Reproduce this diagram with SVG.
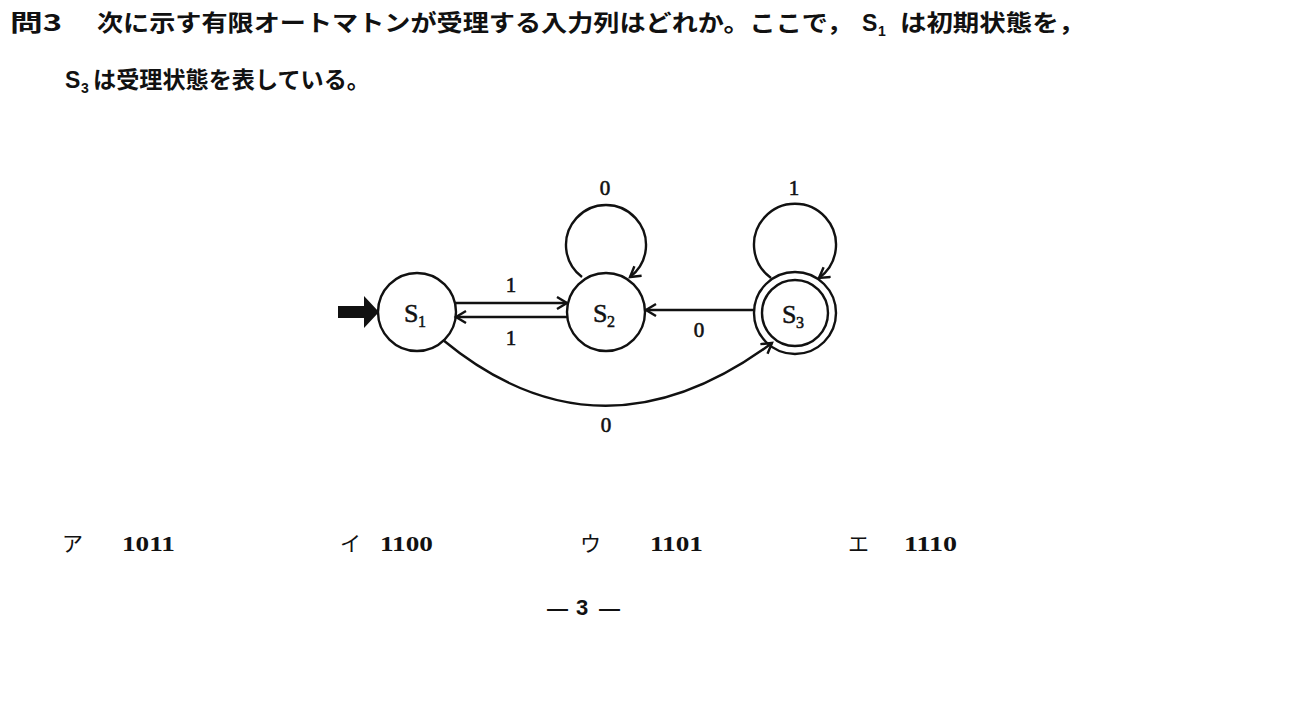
<svg xmlns="http://www.w3.org/2000/svg" width="1290" height="725" viewBox="0 0 1290 725">
<style>
.hd{font-family:"Noto Sans CJK JP","Noto Sans",sans-serif;font-weight:bold;font-size:23px;fill:#111}
.hs{font-family:"Liberation Sans",Arial,sans-serif;font-weight:bold;fill:#111}
.st{fill:none;stroke:#111;stroke-width:2.4}
.lb{font-family:"Liberation Serif","DejaVu Serif",serif;font-size:21px;fill:#111;stroke:#111;stroke-width:0.6;text-anchor:middle}
.sn{font-family:"Liberation Serif","DejaVu Serif",serif;fill:#111;stroke:#111;stroke-width:0.5}
.op{font-family:"Noto Sans CJK JP",sans-serif;font-size:21px;fill:#111}
.num{font-family:"Liberation Serif","DejaVu Serif",serif;font-weight:bold;font-size:22px;fill:#111}
</style>
<defs>
<marker id="ah" markerUnits="userSpaceOnUse" markerWidth="16" markerHeight="16" refX="12" refY="7" orient="auto">
<path d="M2,1 L12,7 L2,13" fill="none" stroke="#111" stroke-width="2.4"/>
</marker>
</defs>
<rect width="1290" height="725" fill="#fff"/>

<g id="header">
<text class="hd" x="10" y="31" textLength="52" lengthAdjust="spacingAndGlyphs">問3</text>
<text class="hd" x="97" y="31" textLength="756" lengthAdjust="spacingAndGlyphs">次に示す有限オートマトンが受理する入力列はどれか。ここで，</text>
<text class="hs" x="862" y="31" font-size="23">S</text>
<text class="hs" x="878" y="36" font-size="14">1</text>
<text class="hd" x="900" y="31" textLength="185" lengthAdjust="spacingAndGlyphs">は初期状態を，</text>
<text class="hs" x="65" y="88" font-size="23">S</text>
<text class="hs" x="81" y="93" font-size="14">3</text>
<text class="hd" x="93" y="88" textLength="277" lengthAdjust="spacingAndGlyphs">は受理状態を表している。</text>
</g>

<g id="connectors">
<path d="M338,306 H364 V296 L379,312 L364,328 V318 H338 Z" fill="#111"/>
<line class="st" x1="455" y1="303" x2="567" y2="303" marker-end="url(#ah)"/>
<line class="st" x1="567" y1="317" x2="456" y2="317" marker-end="url(#ah)"/>
<line class="st" x1="754" y1="310" x2="646" y2="310" marker-end="url(#ah)"/>
<path class="st" d="M582,277 A40,40 0 1 1 630,277" marker-end="url(#ah)"/>
<path class="st" d="M771,278 A41,41 0 1 1 819,278" marker-end="url(#ah)"/>
<path class="st" d="M443,340 Q600,470 772,343" marker-end="url(#ah)"/>
<text class="lb" x="511" y="292">1</text>
<text class="lb" x="511" y="345">1</text>
<text class="lb" x="605" y="195">0</text>
<text class="lb" x="794" y="195">1</text>
<text class="lb" x="699" y="337">0</text>
<text class="lb" x="606" y="432">0</text>
</g>

<g id="S1">
<circle class="st" cx="417" cy="312" r="39"/>
<text class="sn" x="404" y="322" font-size="26">S</text>
<text class="sn" x="418" y="327" font-size="16">1</text>
</g>
<g id="S2">
<circle class="st" cx="606" cy="312" r="39"/>
<text class="sn" x="593" y="322" font-size="26">S</text>
<text class="sn" x="607" y="327" font-size="16">2</text>
</g>
<g id="S3">
<circle class="st" cx="795" cy="313" r="41"/>
<circle class="st" cx="795" cy="313" r="33"/>
<text class="sn" x="782" y="323" font-size="26">S</text>
<text class="sn" x="796" y="328" font-size="16">3</text>
</g>

<g id="options">
<text class="op" x="62" y="551">ア</text>
<text class="num" x="122" y="551" textLength="53" lengthAdjust="spacingAndGlyphs">1011</text>
<text class="op" x="340" y="551">イ</text>
<text class="num" x="380" y="551" textLength="53" lengthAdjust="spacingAndGlyphs">1100</text>
<text class="op" x="580" y="551">ウ</text>
<text class="num" x="650" y="551" textLength="53" lengthAdjust="spacingAndGlyphs">1101</text>
<text class="op" x="848" y="551">エ</text>
<text class="num" x="904" y="551" textLength="53" lengthAdjust="spacingAndGlyphs">1110</text>
</g>

<g id="footer">
<text class="hs" x="547" y="615" font-size="21">—</text>
<text class="hs" x="576" y="615" font-size="22">3</text>
<text class="hs" x="599" y="615" font-size="21">—</text>
</g>
</svg>
